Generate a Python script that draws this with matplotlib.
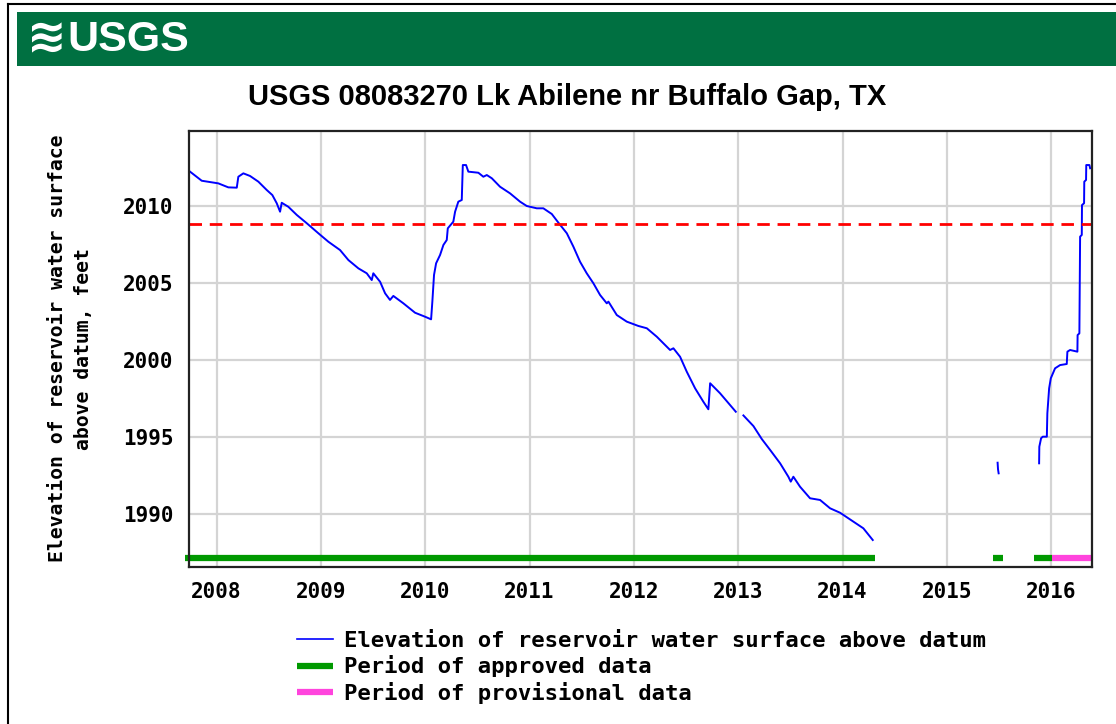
import numpy as np
import matplotlib
matplotlib.use("Agg")
import matplotlib.pyplot as plt
import matplotlib.dates as mdates
from matplotlib.lines import Line2D
from matplotlib.patches import Rectangle

# water surface elevation (decimal year, feet); nan = gap
elev_year = [2007.746, 2007.858, 2008.017, 2008.113, 2008.194, 2008.209, 2008.257, 2008.321,
             2008.401, 2008.481, 2008.535, 2008.577, 2008.609, 2008.625, 2008.688, 2008.769,
             2008.865, 2008.976, 2009.072, 2009.184, 2009.264, 2009.360, 2009.440, 2009.488,
             2009.503, 2009.568, 2009.616, 2009.663, 2009.695, 2009.791, 2009.903, 2009.999,
             2010.057, 2010.069, 2010.085, 2010.105, 2010.143, 2010.175, 2010.207, 2010.217,
             2010.270, 2010.287, 2010.318, 2010.351, 2010.361, 2010.392, 2010.414, 2010.510,
             2010.558, 2010.591, 2010.639, 2010.718, 2010.814, 2010.910, 2010.974, 2011.070,
             2011.133, 2011.214, 2011.277, 2011.358, 2011.421, 2011.485, 2011.549, 2011.613,
             2011.677, 2011.741, 2011.757, 2011.837, 2011.933, 2012.044, 2012.125, 2012.221,
             2012.316, 2012.348, 2012.380, 2012.444, 2012.508, 2012.588, 2012.667, 2012.715,
             2012.732, 2012.827, 2012.978, np.nan,
             2013.051, 2013.147, 2013.227, 2013.307, 2013.403, 2013.482, 2013.505, 2013.530,
             2013.594, 2013.690, 2013.786, 2013.882, 2013.978, 2014.105, 2014.201, 2014.291,
             np.nan,
             2015.488, 2015.492, 2015.498, np.nan,
             2015.886, 2015.888, 2015.905, 2015.921, 2015.960, 2015.965, 2015.982, 2015.998,
             2016.039, 2016.087, 2016.151, 2016.157, 2016.183, 2016.253, 2016.255, 2016.272,
             2016.279, 2016.295, 2016.297, 2016.317, 2016.319, 2016.336, 2016.338, 2016.368,
             2016.375]
elev_ft = [2012.23, 2011.64, 2011.47, 2011.21, 2011.19, 2011.90, 2012.12, 2011.95,
           2011.58, 2011.04, 2010.71, 2010.18, 2009.63, 2010.21, 2009.95, 2009.42,
           2008.88, 2008.23, 2007.68, 2007.14, 2006.49, 2005.95, 2005.63, 2005.19,
           2005.63, 2005.08, 2004.33, 2003.90, 2004.16, 2003.68, 2003.07, 2002.81,
           2002.64, 2003.79, 2005.52, 2006.28, 2006.82, 2007.47, 2007.79, 2008.55,
           2008.98, 2009.63, 2010.28, 2010.39, 2012.66, 2012.66, 2012.23, 2012.16,
           2011.90, 2012.01, 2011.80, 2011.25, 2010.82, 2010.28, 2010.00, 2009.85,
           2009.85, 2009.48, 2008.92, 2008.23, 2007.36, 2006.38, 2005.63, 2004.98,
           2004.22, 2003.68, 2003.79, 2002.92, 2002.49, 2002.21, 2002.06, 2001.51,
           2000.86, 2000.65, 2000.76, 2000.21, 1999.24, 1998.16, 1997.29, 1996.80,
           1998.49, 1997.84, 1996.64, np.nan,
           1996.40, 1995.71, 1994.87, 1994.16, 1993.29, 1992.42, 1992.10, 1992.42,
           1991.77, 1991.02, 1990.91, 1990.37, 1990.08, 1989.50, 1989.07, 1988.31,
           np.nan,
           1993.33, 1992.90, 1992.64, np.nan,
           1993.29, 1994.37, 1994.92, 1995.02, 1995.02, 1996.54, 1998.16, 1998.81,
           1999.46, 1999.67, 1999.74, 2000.54, 2000.65, 2000.54, 2001.62, 2001.73,
           2008.01, 2008.12, 2010.06, 2010.18, 2011.58, 2011.69, 2012.66, 2012.66,
           2012.45]

ref_level = 2008.83          # red dashed reference line
approved_start = [2007.70, 2015.445, 2015.838]
approved_end = [2014.313, 2015.541, 2016.011]
provisional_start = [2016.011]
provisional_end = [2016.40]

y_ticks = [1990, 1995, 2000, 2005, 2010]
title = "USGS 08083270 Lk Abilene nr Buffalo Gap, TX"
ylabel = "Elevation of reservoir water surface\nabove datum, feet"
legend_labels = ["Elevation of reservoir water surface above datum",
                 "Period of approved data",
                 "Period of provisional data"]

base = mdates.date2num(np.datetime64("2008-01-01"))


def yr2num(v):
    return base + (np.asarray(v, dtype=float) - 2008) * 365.25


mono = "DejaVu Sans Mono"
fig = plt.figure(figsize=(11.16, 7.24), dpi=100)

# header banner + frame
fig.add_artist(Rectangle((17 / 1116, 1 - 66 / 724), 1 - 17 / 1116, 54 / 724,
                         transform=fig.transFigure, color="#007041", lw=0))
fig.add_artist(Line2D([8 / 1116, 8 / 1116], [0, 1 - 4 / 724], transform=fig.transFigure, color="black", lw=1.5))
fig.add_artist(Line2D([8 / 1116, 1], [1 - 4 / 724, 1 - 4 / 724], transform=fig.transFigure, color="black", lw=1.5))
fig.text(27 / 1116, 1 - 40 / 724, "\u224b", color="white", fontsize=34, fontweight="bold",
         family="DejaVu Sans", va="center", ha="left")
fig.text(67 / 1116, 1 - 40 / 724, "USGS", color="white", fontsize=31, fontweight="bold",
         family="Liberation Sans", va="center", ha="left")

fig.text(567 / 1116, 1 - 97 / 724, title, fontsize=21, fontweight="bold",
         family="Liberation Sans", ha="center", va="center")

ax = fig.add_axes([189 / 1116, 1 - 566.5 / 724, 903 / 1116, 435.5 / 724])

ax.plot(yr2num(elev_year), elev_ft, color="#0000ff", lw=1.4)
ax.axhline(ref_level, color="#ff0000", lw=2, dashes=(4.5, 2.8))

bar_y = 1987.15
for s, e in zip(approved_start, approved_end):
    ax.plot(yr2num([s, e]), [bar_y, bar_y], color="#009900", lw=4.5,
            solid_capstyle="butt", clip_on=False)
for s, e in zip(provisional_start, provisional_end):
    ax.plot(yr2num([s, e]), [bar_y, bar_y], color="#ff44dd", lw=4.5,
            solid_capstyle="butt", clip_on=False)

ax.set_xlim(yr2num(2007.736), yr2num(2016.393))
ax.set_ylim(1986.59, 2014.87)
ax.xaxis.set_major_locator(mdates.YearLocator())
ax.xaxis.set_major_formatter(mdates.DateFormatter("%Y"))
ax.set_yticks(y_ticks)
ax.grid(True, color="#d4d4d4", lw=1.6)
ax.set_axisbelow(True)
ax.tick_params(length=0, pad=11)
for lab in ax.get_xticklabels() + ax.get_yticklabels():
    lab.set_family(mono)
    lab.set_fontweight("bold")
    lab.set_fontsize(15)
for sp in ax.spines.values():
    sp.set_linewidth(1.6)
    sp.set_color("#222222")

ax.set_ylabel(ylabel, family=mono, fontsize=14.2, fontweight="bold", labelpad=22,
              linespacing=1.45)

handles = [Line2D([], [], color="#0000ff", lw=1.2),
           Line2D([], [], color="#009900", lw=4.5, solid_capstyle="butt"),
           Line2D([], [], color="#ff44dd", lw=4.5, solid_capstyle="butt")]
fig.legend(handles, legend_labels, loc="upper left", bbox_to_anchor=(297 / 1116, 1 - 631 / 724),
           frameon=False, prop={"family": mono, "size": 16, "weight": "bold"},
           handlelength=1.6, handletextpad=0.5, labelspacing=0.2, borderpad=0, borderaxespad=0)

fig.savefig("out.png", dpi=100)
